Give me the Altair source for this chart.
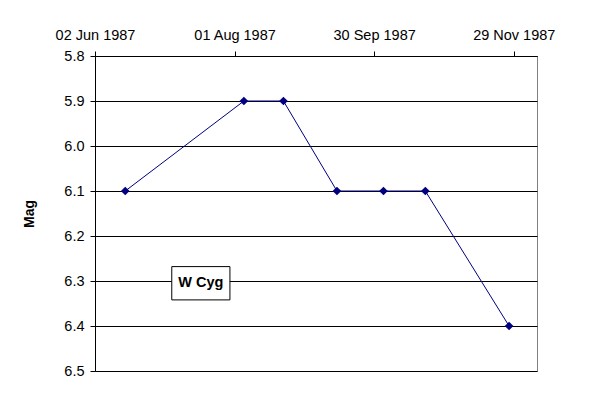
import altair as alt
import pandas as pd

# Observation data (W Cyg)
dates = ["1987-06-15", "1987-08-05", "1987-08-22", "1987-09-14",
         "1987-10-04", "1987-10-22", "1987-11-27"]
mags = [6.1, 5.9, 5.9, 6.1, 6.1, 6.1, 6.4]

x_tick_dates = ["1987-06-02", "1987-08-01", "1987-09-30", "1987-11-29"]
y_ticks = [5.8, 5.9, 6.0, 6.1, 6.2, 6.3, 6.4, 6.5]
star_label = "W Cyg"

FONT = "Liberation Sans"
NAVY = "#000080"

df = pd.DataFrame({"date": dates, "mag": mags})


def dt(s):
    y, m, d = (int(v) for v in s.split("-"))
    return alt.DateTime(year=y, month=m, date=d, utc=True)


x_scale = alt.Scale(type="utc", domain=[dt("1987-06-02"), dt("1987-12-09")], nice=False)
y_scale = alt.Scale(domain=[5.8, 6.5], reverse=True, nice=False, zero=False)

x_axis = alt.Axis(
    orient="top", values=[dt(s) for s in x_tick_dates],
    labelExpr="utcFormat(datum.value, '%d %b %Y')",
    title=None, grid=False, labelPadding=9, labelAngle=0,
    labelFlush=False, labelOverlap=False,
)
y_axis = alt.Axis(
    values=y_ticks, labelExpr="format(datum.value, '.1f')", title="Mag", grid=True,
    labelPadding=6, titlePadding=27, labelFlush=False,
)

line = alt.Chart(df).mark_line(color=NAVY, strokeWidth=1).encode(
    x=alt.X("date:T", scale=x_scale, axis=x_axis),
    y=alt.Y("mag:Q", scale=y_scale, axis=y_axis),
)
points = alt.Chart(df).mark_point(
    shape="diamond", filled=True, color=NAVY, size=75, opacity=1
).encode(
    x=alt.X("date:T", scale=x_scale, axis=x_axis),
    y=alt.Y("mag:Q", scale=y_scale, axis=y_axis),
)

ann_df = pd.DataFrame({
    "x1": ["1987-07-05"], "x2": ["1987-07-30"],
    "y1": [6.268], "y2": [6.342],
    "xc": ["1987-07-17T12:00:00"], "yc": [6.305], "label": [star_label],
})
ann_box = alt.Chart(ann_df).mark_rect(fill="white", stroke="black", strokeWidth=1).encode(
    x=alt.X("x1:T", scale=x_scale, axis=x_axis), x2="x2:T",
    y=alt.Y("y1:Q", scale=y_scale, axis=y_axis), y2="y2:Q",
)
ann_text = alt.Chart(ann_df).mark_text(
    font=FONT, fontSize=14.5, fontWeight="bold", color="black", baseline="middle", align="center"
).encode(
    x=alt.X("xc:T", scale=x_scale, axis=x_axis),
    y=alt.Y("yc:Q", scale=y_scale, axis=y_axis),
    text="label:N",
)

chart = alt.layer(line, points, ann_box, ann_text).properties(
    width=442, height=315,
    autosize=alt.AutoSizeParams(type="none"),
    padding={"left": 87, "top": 48, "right": 55, "bottom": 21},
    background="white",
).configure_view(
    stroke="#808080", strokeWidth=1
).configure_axis(
    labelFont=FONT, labelFontSize=14.5, labelColor="black",
    titleFont=FONT, titleFontSize=14, titleFontWeight="bold", titleColor="black",
    domainColor="black", domainWidth=1, tickColor="black", tickSize=5, tickWidth=1,
    gridColor="black", gridOpacity=1, gridWidth=1,
)

chart.save("out.html", embed_options={"renderer": "svg", "actions": False})
